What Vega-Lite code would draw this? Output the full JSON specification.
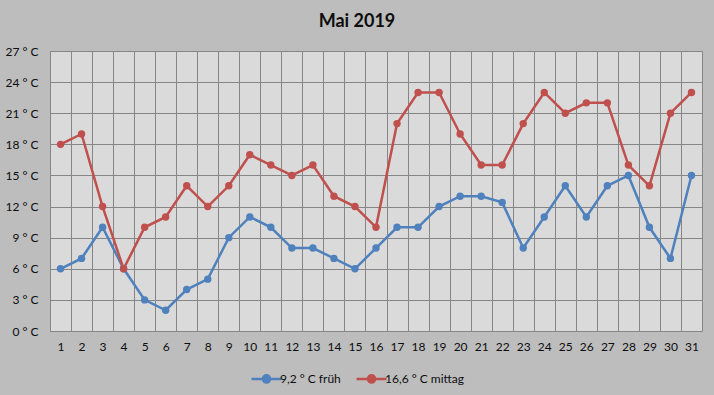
{
  "$schema": "https://vega.github.io/schema/vega-lite/v6.json",
  "autosize": {"type": "none"},
  "width": 652,
  "height": 280,
  "padding": {"left": 50, "top": 51, "right": 12, "bottom": 64},
  "background": "#bdbdbd",
  "title": {"text": "Mai 2019", "anchor": "middle", "dx": -19, "offset": 14, "fontSize": 18, "fontWeight": "bold", "font": "Lato", "color": "#0d0d0d"},
  "config": {
    "view": {"fill": "#dadada", "stroke": "#868686", "strokeWidth": 1},
    "font": "Lato"
  },
  "data": {"values": [
    {"tag": 1, "serie": "9,2 ° C früh", "temp": 6},
    {"tag": 2, "serie": "9,2 ° C früh", "temp": 7},
    {"tag": 3, "serie": "9,2 ° C früh", "temp": 10},
    {"tag": 4, "serie": "9,2 ° C früh", "temp": 6},
    {"tag": 5, "serie": "9,2 ° C früh", "temp": 3},
    {"tag": 6, "serie": "9,2 ° C früh", "temp": 2},
    {"tag": 7, "serie": "9,2 ° C früh", "temp": 4},
    {"tag": 8, "serie": "9,2 ° C früh", "temp": 5},
    {"tag": 9, "serie": "9,2 ° C früh", "temp": 9},
    {"tag": 10, "serie": "9,2 ° C früh", "temp": 11},
    {"tag": 11, "serie": "9,2 ° C früh", "temp": 10},
    {"tag": 12, "serie": "9,2 ° C früh", "temp": 8},
    {"tag": 13, "serie": "9,2 ° C früh", "temp": 8},
    {"tag": 14, "serie": "9,2 ° C früh", "temp": 7},
    {"tag": 15, "serie": "9,2 ° C früh", "temp": 6},
    {"tag": 16, "serie": "9,2 ° C früh", "temp": 8},
    {"tag": 17, "serie": "9,2 ° C früh", "temp": 10},
    {"tag": 18, "serie": "9,2 ° C früh", "temp": 10},
    {"tag": 19, "serie": "9,2 ° C früh", "temp": 12},
    {"tag": 20, "serie": "9,2 ° C früh", "temp": 13},
    {"tag": 21, "serie": "9,2 ° C früh", "temp": 13},
    {"tag": 22, "serie": "9,2 ° C früh", "temp": 12.4},
    {"tag": 23, "serie": "9,2 ° C früh", "temp": 8},
    {"tag": 24, "serie": "9,2 ° C früh", "temp": 11},
    {"tag": 25, "serie": "9,2 ° C früh", "temp": 14},
    {"tag": 26, "serie": "9,2 ° C früh", "temp": 11},
    {"tag": 27, "serie": "9,2 ° C früh", "temp": 14},
    {"tag": 28, "serie": "9,2 ° C früh", "temp": 15},
    {"tag": 29, "serie": "9,2 ° C früh", "temp": 10},
    {"tag": 30, "serie": "9,2 ° C früh", "temp": 7},
    {"tag": 31, "serie": "9,2 ° C früh", "temp": 15},
    {"tag": 1, "serie": "16,6 ° C mittag", "temp": 18},
    {"tag": 2, "serie": "16,6 ° C mittag", "temp": 19},
    {"tag": 3, "serie": "16,6 ° C mittag", "temp": 12},
    {"tag": 4, "serie": "16,6 ° C mittag", "temp": 6},
    {"tag": 5, "serie": "16,6 ° C mittag", "temp": 10},
    {"tag": 6, "serie": "16,6 ° C mittag", "temp": 11},
    {"tag": 7, "serie": "16,6 ° C mittag", "temp": 14},
    {"tag": 8, "serie": "16,6 ° C mittag", "temp": 12},
    {"tag": 9, "serie": "16,6 ° C mittag", "temp": 14},
    {"tag": 10, "serie": "16,6 ° C mittag", "temp": 17},
    {"tag": 11, "serie": "16,6 ° C mittag", "temp": 16},
    {"tag": 12, "serie": "16,6 ° C mittag", "temp": 15},
    {"tag": 13, "serie": "16,6 ° C mittag", "temp": 16},
    {"tag": 14, "serie": "16,6 ° C mittag", "temp": 13},
    {"tag": 15, "serie": "16,6 ° C mittag", "temp": 12},
    {"tag": 16, "serie": "16,6 ° C mittag", "temp": 10},
    {"tag": 17, "serie": "16,6 ° C mittag", "temp": 20},
    {"tag": 18, "serie": "16,6 ° C mittag", "temp": 23},
    {"tag": 19, "serie": "16,6 ° C mittag", "temp": 23},
    {"tag": 20, "serie": "16,6 ° C mittag", "temp": 19},
    {"tag": 21, "serie": "16,6 ° C mittag", "temp": 16},
    {"tag": 22, "serie": "16,6 ° C mittag", "temp": 16},
    {"tag": 23, "serie": "16,6 ° C mittag", "temp": 20},
    {"tag": 24, "serie": "16,6 ° C mittag", "temp": 23},
    {"tag": 25, "serie": "16,6 ° C mittag", "temp": 21},
    {"tag": 26, "serie": "16,6 ° C mittag", "temp": 22},
    {"tag": 27, "serie": "16,6 ° C mittag", "temp": 22},
    {"tag": 28, "serie": "16,6 ° C mittag", "temp": 16},
    {"tag": 29, "serie": "16,6 ° C mittag", "temp": 14},
    {"tag": 30, "serie": "16,6 ° C mittag", "temp": 21},
    {"tag": 31, "serie": "16,6 ° C mittag", "temp": 23}
  ]},
  "encoding": {
    "x": {
      "field": "tag", "type": "quantitative",
      "scale": {"domain": [0.5, 31.5], "nice": false, "zero": false},
      "axis": {"title": null, "labelAngle": 0, "values": [0.5, 1.5, 2.5, 3.5, 4.5, 5.5, 6.5, 7.5, 8.5, 9.5, 10.5, 11.5, 12.5, 13.5, 14.5, 15.5, 16.5, 17.5, 18.5, 19.5, 20.5, 21.5, 22.5, 23.5, 24.5, 25.5, 26.5, 27.5, 28.5, 29.5, 30.5], "labelExpr": "datum.value + 0.5", "labelOffset": 10.5, "labelFlush": false, "labelOverlap": false, "labelBound": false, "grid": true, "gridColor": "#868686", "gridOpacity": 1, "gridWidth": 1, "ticks": false, "domain": false, "labelPadding": 10, "labelFontSize": 12, "labelColor": "#0d0d0d", "labelFont": "Lato"}
    },
    "y": {
      "field": "temp", "type": "quantitative",
      "scale": {"domain": [0, 27], "nice": false},
      "axis": {"title": null, "values": [0, 3, 6, 9, 12, 15, 18, 21, 24, 27], "labelExpr": "datum.value + ' ° C'", "grid": true, "gridColor": "#868686", "gridOpacity": 1, "gridWidth": 1, "ticks": false, "domain": false, "labelPadding": 12, "labelFontSize": 12, "labelColor": "#0d0d0d", "labelFont": "Lato"}
    },
    "color": {
      "field": "serie", "type": "nominal",
      "scale": {"domain": ["9,2 ° C früh", "16,6 ° C mittag"], "range": ["#4f81bd", "#c0504d"]},
      "legend": {"title": null, "orient": "none", "legendX": 200, "legendY": 311, "direction": "horizontal", "symbolType": "M-1,0L1,0M-0.24,0A0.24,0.24,0,1,1,0.24,0A0.24,0.24,0,1,1,-0.24,0Z", "symbolSize": 900, "symbolStrokeWidth": 2.5, "labelFontSize": 12, "labelColor": "#0d0d0d", "labelFont": "Lato", "columnPadding": 10, "labelOffset": -3}
    }
  },
  "layer": [
    {"mark": {"type": "line", "strokeWidth": 2.5}},
    {"mark": {"type": "point", "filled": true, "opacity": 1, "size": 55}}
  ]
}
